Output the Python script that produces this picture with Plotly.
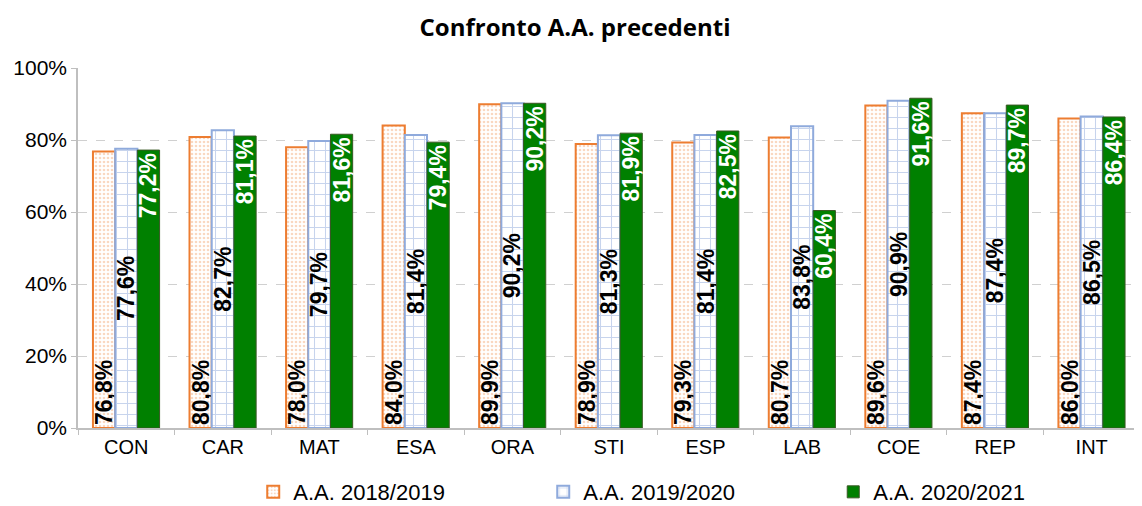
import plotly.graph_objects as go

categories = ['CON', 'CAR', 'MAT', 'ESA', 'ORA', 'STI', 'ESP', 'LAB', 'COE', 'REP', 'INT']
aa_2018_2019 = [76.8, 80.8, 78.0, 84.0, 89.9, 78.9, 79.3, 80.7, 89.6, 87.4, 86.0]
aa_2019_2020 = [77.6, 82.7, 79.7, 81.4, 90.2, 81.3, 81.4, 83.8, 90.9, 87.4, 86.5]
aa_2020_2021 = [77.2, 81.1, 81.6, 79.4, 90.2, 81.9, 82.5, 60.4, 91.6, 89.7, 86.4]


def fmt(values):
    return [f"<b>{v:.1f}%</b>".replace('.', ',') for v in values]


label_font = dict(size=23, family='Liberation Sans')

fig = go.Figure()

fig.add_trace(go.Bar(
    x=categories, y=aa_2018_2019, name='A.A. 2018/2019',
    text=fmt(aa_2018_2019), textposition='inside', insidetextanchor='start',
    textangle=-90, textfont=dict(color='black', **label_font),
    marker=dict(color='white', line=dict(color='#ed7d31', width=2),
                pattern=dict(shape='.', fgcolor='#f4b183', bgcolor='white', size=4, solidity=0.35)),
))
fig.add_trace(go.Bar(
    x=categories, y=aa_2019_2020, name='A.A. 2019/2020',
    text=fmt(aa_2019_2020), textposition='inside', insidetextanchor='middle',
    textangle=-90, textfont=dict(color='black', **label_font),
    marker=dict(color='white', line=dict(color='#8faadc', width=2),
                pattern=dict(shape='+', fgcolor='#8faadc', bgcolor='white', size=11, solidity=0.18)),
))
fig.add_trace(go.Bar(
    x=categories, y=aa_2020_2021, name='A.A. 2020/2021',
    text=fmt(aa_2020_2021), textposition='inside', insidetextanchor='end',
    textangle=-90, textfont=dict(color='white', **label_font),
    marker=dict(color='#008000', line=dict(color='#385723', width=1)),
))

# the page adds an ~8px offset, so the figure is a bit smaller than the window
fig.update_layout(
    title=dict(text='<b>Confronto A.A. precedenti</b>', x=0.5, xanchor='center',
               y=0.96, yanchor='middle',
               font=dict(family='Open Sans', size=24, color='black')),
    width=1134, height=498,
    margin=dict(l=70, r=2, t=60, b=78),
    plot_bgcolor='white', paper_bgcolor='white',
    barmode='group', bargap=0.31, bargroupgap=0,
    uniformtext=dict(mode='show', minsize=23),
    font=dict(family='Liberation Sans', color='black'),
    legend=dict(orientation='h', x=0.165, xanchor='left', yref='container', y=0.028,
                yanchor='middle', font=dict(size=22, family='Liberation Sans'), itemwidth=30,
                entrywidth=245, entrywidthmode='pixels'),
    xaxis=dict(showline=True, linecolor='#bfbfbf', linewidth=1.5, ticks='outside',
               tickson='boundaries', tickcolor='#bfbfbf', ticklen=5,
               tickfont=dict(size=20), automargin=False),
    yaxis=dict(range=[0, 100], dtick=20, ticksuffix='%', showline=True, linecolor='#bfbfbf',
               linewidth=1.5, ticks='outside', tickcolor='#bfbfbf', ticklen=5,
               gridcolor='#d0d0d0', griddash='dash', tickfont=dict(size=21),
               automargin=False),
)

fig.write_html('out.html')
